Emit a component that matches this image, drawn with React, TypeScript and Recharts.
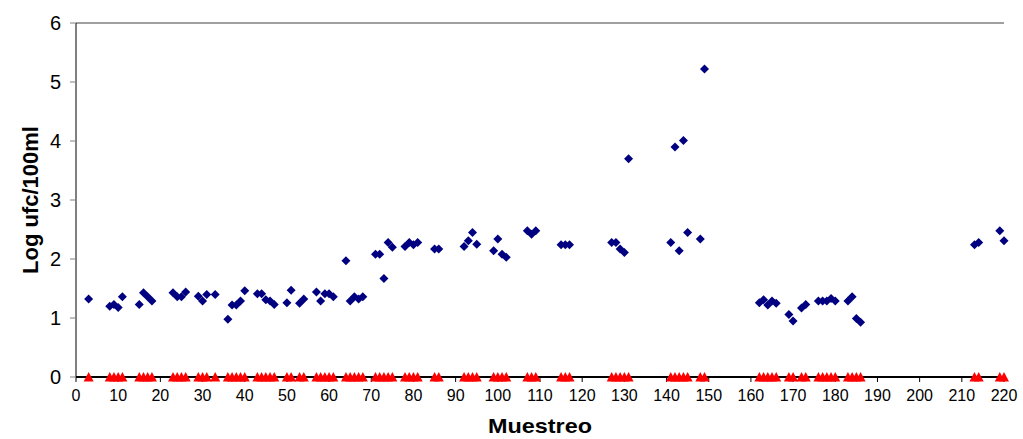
import { CartesianGrid, Label, Scatter, ScatterChart, XAxis, YAxis } from 'recharts';

// sample number (Muestreo) for every sample taken
const sampleIds = [
  3, 8, 9, 10, 11, 15, 16, 17, 18, 23, 24, 25, 26, 29, 30, 31, 33, 36, 37, 38, 39, 40, 43, 44, 45, 46, 47, 50, 51,
  53, 54, 57, 58, 59, 60, 61, 64, 65, 66, 67, 68, 71, 72, 73, 74, 75, 78, 79, 80, 81, 85, 86, 92, 93, 94, 95, 99,
  100, 101, 102, 107, 108, 109, 115, 116, 117, 127, 128, 129, 130, 131, 141, 142, 143, 144, 145, 148, 149, 162,
  163, 164, 165, 166, 169, 170, 172, 173, 176, 177, 178, 179, 180, 183, 184, 185, 186, 213, 214, 219, 220,
];

// log ufc/100ml, blue diamonds
const logCounts = [
  1.32, 1.2, 1.23, 1.18, 1.36, 1.23, 1.43, 1.36, 1.29, 1.43, 1.36, 1.36, 1.44, 1.37, 1.29, 1.4, 1.4, 0.98, 1.22,
  1.22, 1.29, 1.46, 1.41, 1.41, 1.31, 1.29, 1.23, 1.26, 1.47, 1.25, 1.32, 1.44, 1.29, 1.41, 1.41, 1.36, 1.97, 1.29,
  1.36, 1.32, 1.36, 2.08, 2.08, 1.67, 2.28, 2.2, 2.21, 2.28, 2.24, 2.28, 2.17, 2.17, 2.21, 2.31, 2.45, 2.25, 2.14,
  2.34, 2.08, 2.03, 2.48, 2.42, 2.48, 2.24, 2.24, 2.24, 2.28, 2.28, 2.17, 2.11, 3.7, 2.28, 3.9, 2.14, 4.01, 2.45,
  2.34, 5.22, 1.26, 1.31, 1.22, 1.29, 1.25, 1.06, 0.95, 1.17, 1.23, 1.29, 1.29, 1.29, 1.33, 1.29, 1.29, 1.36, 0.99,
  0.93, 2.24, 2.28, 2.48, 2.31,
];

// second series: every sample sits at 0
const zeroLevel = 0;

const xTicks = [0, 10, 20, 30, 40, 50, 60, 70, 80, 90, 100, 110, 120, 130, 140, 150, 160, 170, 180, 190, 200, 210, 220];
const yTicks = [0, 1, 2, 3, 4, 5, 6];

const blueData = sampleIds.map((id, i) => ({ x: id, y: logCounts[i] }));
const redData = sampleIds.map((id) => ({ x: id, y: zeroLevel }));

const font = '"Liberation Sans", Arial, sans-serif';

const Diamond = (props: any) => {
  const { cx, cy } = props;
  const r = 4.5;
  return <polygon points={`${cx},${cy - r} ${cx + r},${cy} ${cx},${cy + r} ${cx - r},${cy}`} fill="#000080" />;
};

const Triangle = (props: any) => {
  const { cx, cy } = props;
  return <polygon points={`${cx},${cy - 5} ${cx + 5},${cy + 4.5} ${cx - 5},${cy + 4.5}`} fill="#ff0000" />;
};

const YTitle = (props: any) => {
  const vb = props.viewBox;
  const x = 30;
  const y = vb.y + vb.height / 2;
  return (
    <text
      x={x}
      y={y}
      transform={`rotate(-90 ${x} ${y})`}
      textAnchor="middle"
      dominantBaseline="central"
      fontFamily={font}
      fontSize={22}
      fontWeight="bold"
      fill="#000"
    >
      Log ufc/100ml
    </text>
  );
};

const XTitle = (props: any) => {
  const vb = props.viewBox;
  return (
    <text
      x={vb.x + vb.width / 2}
      y={433}
      textAnchor="middle"
      fontFamily={font}
      fontSize={21}
      fontWeight="bold"
      textLength={104}
      lengthAdjust="spacingAndGlyphs"
      fill="#000"
    >
      Muestreo
    </text>
  );
};

export default function App() {
  return (
    <div style={{ position: 'absolute', left: 0, top: 0, width: 1023, height: 439, background: '#fff' }}>
      <ScatterChart width={1023} height={439} margin={{ top: 23, right: 19, bottom: 0, left: 0 }}>
        <CartesianGrid horizontal vertical={false} stroke="#808080" strokeWidth={1.3} />
        <XAxis
          type="number"
          dataKey="x"
          domain={[0, 220]}
          ticks={xTicks}
          interval={0}
          height={62}
          axisLine={{ stroke: '#000', strokeWidth: 2 }}
          tickLine={{ stroke: '#000' }}
          tickSize={5}
          tickMargin={8}
          tick={{ fill: '#000', fontSize: 16, fontFamily: font }}
        >
          <Label content={XTitle} />
        </XAxis>
        <YAxis
          yAxisId="left"
          type="number"
          dataKey="y"
          domain={[0, 6]}
          ticks={yTicks}
          interval={0}
          width={76}
          axisLine={{ stroke: '#000' }}
          tickLine={{ stroke: '#808080' }}
          tickSize={6}
          tickMargin={9}
          tick={{ fill: '#000', fontSize: 20, fontFamily: font }}
        >
          <Label content={YTitle} />
        </YAxis>
        <YAxis
          yAxisId="right"
          orientation="right"
          type="number"
          domain={[0, 6]}
          width={0}
          tick={false}
          tickLine={false}
          axisLine={{ stroke: '#000' }}
        />
        <Scatter yAxisId="left" data={redData} shape={Triangle} isAnimationActive={false} />
        <Scatter yAxisId="left" data={blueData} shape={Diamond} isAnimationActive={false} />
      </ScatterChart>
    </div>
  );
}
